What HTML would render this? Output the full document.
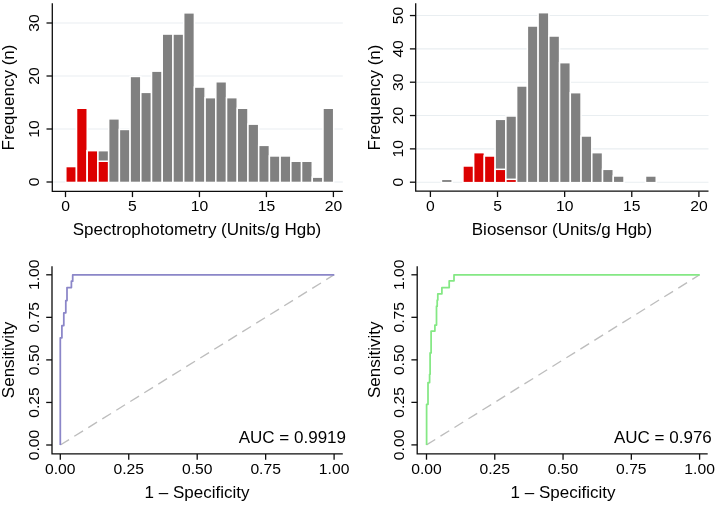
<!DOCTYPE html>
<html><head><meta charset="utf-8"><title>Figure</title>
<style>
html,body{margin:0;padding:0;background:#fff;}
svg{display:block;will-change:transform;font-family:"Liberation Sans",sans-serif;}
text{fill:#000;}
</style></head>
<body>
<svg width="717" height="505" viewBox="0 0 717 505">
<rect width="717" height="505" fill="#fff"/>
<line x1="52.3" x2="342.8" y1="182.00" y2="182.00" stroke="#e9eef1" stroke-width="1.1"/>
<line x1="52.3" x2="342.8" y1="129.00" y2="129.00" stroke="#e9eef1" stroke-width="1.1"/>
<line x1="52.3" x2="342.8" y1="76.00" y2="76.00" stroke="#e9eef1" stroke-width="1.1"/>
<line x1="52.3" x2="342.8" y1="23.00" y2="23.00" stroke="#e9eef1" stroke-width="1.1"/>
<rect x="65.80" y="166.55" width="10.72" height="15.90" fill="#808080" stroke="#fff" stroke-width="1.5"/>
<rect x="65.80" y="166.55" width="10.72" height="15.90" fill="#dc0000" stroke="#fff" stroke-width="1.5"/>
<rect x="76.52" y="108.25" width="10.72" height="74.20" fill="#808080" stroke="#fff" stroke-width="1.5"/>
<rect x="76.52" y="108.25" width="10.72" height="74.20" fill="#dc0000" stroke="#fff" stroke-width="1.5"/>
<rect x="87.23" y="150.65" width="10.72" height="31.80" fill="#808080" stroke="#fff" stroke-width="1.5"/>
<rect x="87.23" y="150.65" width="10.72" height="31.80" fill="#dc0000" stroke="#fff" stroke-width="1.5"/>
<rect x="97.95" y="150.65" width="10.72" height="31.80" fill="#808080" stroke="#fff" stroke-width="1.5"/>
<rect x="97.95" y="161.25" width="10.72" height="21.20" fill="#dc0000" stroke="#fff" stroke-width="1.5"/>
<rect x="108.66" y="118.85" width="10.72" height="63.60" fill="#808080" stroke="#fff" stroke-width="1.5"/>
<rect x="119.38" y="129.45" width="10.72" height="53.00" fill="#808080" stroke="#fff" stroke-width="1.5"/>
<rect x="130.10" y="76.45" width="10.72" height="106.00" fill="#808080" stroke="#fff" stroke-width="1.5"/>
<rect x="140.81" y="92.35" width="10.72" height="90.10" fill="#808080" stroke="#fff" stroke-width="1.5"/>
<rect x="151.53" y="71.15" width="10.72" height="111.30" fill="#808080" stroke="#fff" stroke-width="1.5"/>
<rect x="162.24" y="34.05" width="10.72" height="148.40" fill="#808080" stroke="#fff" stroke-width="1.5"/>
<rect x="172.96" y="34.05" width="10.72" height="148.40" fill="#808080" stroke="#fff" stroke-width="1.5"/>
<rect x="183.68" y="12.85" width="10.72" height="169.60" fill="#808080" stroke="#fff" stroke-width="1.5"/>
<rect x="194.39" y="87.05" width="10.72" height="95.40" fill="#808080" stroke="#fff" stroke-width="1.5"/>
<rect x="205.11" y="97.65" width="10.72" height="84.80" fill="#808080" stroke="#fff" stroke-width="1.5"/>
<rect x="215.82" y="81.75" width="10.72" height="100.70" fill="#808080" stroke="#fff" stroke-width="1.5"/>
<rect x="226.54" y="97.65" width="10.72" height="84.80" fill="#808080" stroke="#fff" stroke-width="1.5"/>
<rect x="237.26" y="108.25" width="10.72" height="74.20" fill="#808080" stroke="#fff" stroke-width="1.5"/>
<rect x="247.97" y="124.15" width="10.72" height="58.30" fill="#808080" stroke="#fff" stroke-width="1.5"/>
<rect x="258.69" y="145.35" width="10.72" height="37.10" fill="#808080" stroke="#fff" stroke-width="1.5"/>
<rect x="269.40" y="155.95" width="10.72" height="26.50" fill="#808080" stroke="#fff" stroke-width="1.5"/>
<rect x="280.12" y="155.95" width="10.72" height="26.50" fill="#808080" stroke="#fff" stroke-width="1.5"/>
<rect x="290.84" y="161.25" width="10.72" height="21.20" fill="#808080" stroke="#fff" stroke-width="1.5"/>
<rect x="301.55" y="161.25" width="10.72" height="21.20" fill="#808080" stroke="#fff" stroke-width="1.5"/>
<rect x="312.27" y="177.15" width="10.72" height="5.30" fill="#808080" stroke="#fff" stroke-width="1.5"/>
<rect x="322.98" y="108.25" width="10.72" height="74.20" fill="#808080" stroke="#fff" stroke-width="1.5"/>
<path d="M52.3,3.2 V191.3 H342.8" fill="none" stroke="#0d0d0d" stroke-width="1.3"/>
<line x1="46.5" x2="52.3" y1="182.00" y2="182.00" stroke="#0d0d0d" stroke-width="1.3"/>
<text transform="translate(38.5,182.00) rotate(-90) scale(1.06,1)" text-anchor="middle" font-size="14.8">0</text>
<line x1="46.5" x2="52.3" y1="129.00" y2="129.00" stroke="#0d0d0d" stroke-width="1.3"/>
<text transform="translate(38.5,129.00) rotate(-90) scale(1.06,1)" text-anchor="middle" font-size="14.8">10</text>
<line x1="46.5" x2="52.3" y1="76.00" y2="76.00" stroke="#0d0d0d" stroke-width="1.3"/>
<text transform="translate(38.5,76.00) rotate(-90) scale(1.06,1)" text-anchor="middle" font-size="14.8">20</text>
<line x1="46.5" x2="52.3" y1="23.00" y2="23.00" stroke="#0d0d0d" stroke-width="1.3"/>
<text transform="translate(38.5,23.00) rotate(-90) scale(1.06,1)" text-anchor="middle" font-size="14.8">30</text>
<line x1="65.50" x2="65.50" y1="191.3" y2="197.10000000000002" stroke="#0d0d0d" stroke-width="1.3"/>
<text transform="translate(65.50,210.70) scale(1.06,1)" text-anchor="middle" font-size="14.8">0</text>
<line x1="132.47" x2="132.47" y1="191.3" y2="197.10000000000002" stroke="#0d0d0d" stroke-width="1.3"/>
<text transform="translate(132.47,210.70) scale(1.06,1)" text-anchor="middle" font-size="14.8">5</text>
<line x1="199.45" x2="199.45" y1="191.3" y2="197.10000000000002" stroke="#0d0d0d" stroke-width="1.3"/>
<text transform="translate(199.45,210.70) scale(1.06,1)" text-anchor="middle" font-size="14.8">10</text>
<line x1="266.42" x2="266.42" y1="191.3" y2="197.10000000000002" stroke="#0d0d0d" stroke-width="1.3"/>
<text transform="translate(266.42,210.70) scale(1.06,1)" text-anchor="middle" font-size="14.8">15</text>
<line x1="333.40" x2="333.40" y1="191.3" y2="197.10000000000002" stroke="#0d0d0d" stroke-width="1.3"/>
<text transform="translate(333.40,210.70) scale(1.06,1)" text-anchor="middle" font-size="14.8">20</text>
<text x="197" y="235.10" text-anchor="middle" font-size="17.0">Spectrophotometry (Units/g Hgb)</text>
<text transform="translate(14.1,97.5) rotate(-90)" text-anchor="middle" font-size="17.0">Frequency (n)</text>
<line x1="415.7" x2="708.5" y1="182.20" y2="182.20" stroke="#e9eef1" stroke-width="1.1"/>
<line x1="415.7" x2="708.5" y1="148.87" y2="148.87" stroke="#e9eef1" stroke-width="1.1"/>
<line x1="415.7" x2="708.5" y1="115.54" y2="115.54" stroke="#e9eef1" stroke-width="1.1"/>
<line x1="415.7" x2="708.5" y1="82.21" y2="82.21" stroke="#e9eef1" stroke-width="1.1"/>
<line x1="415.7" x2="708.5" y1="48.88" y2="48.88" stroke="#e9eef1" stroke-width="1.1"/>
<line x1="415.7" x2="708.5" y1="15.55" y2="15.55" stroke="#e9eef1" stroke-width="1.1"/>
<rect x="441.44" y="179.32" width="10.74" height="3.33" fill="#808080" stroke="#fff" stroke-width="1.5"/>
<rect x="462.92" y="165.98" width="10.74" height="16.66" fill="#808080" stroke="#fff" stroke-width="1.5"/>
<rect x="462.92" y="165.98" width="10.74" height="16.66" fill="#dc0000" stroke="#fff" stroke-width="1.5"/>
<rect x="473.66" y="152.65" width="10.74" height="30.00" fill="#808080" stroke="#fff" stroke-width="1.5"/>
<rect x="473.66" y="152.65" width="10.74" height="30.00" fill="#dc0000" stroke="#fff" stroke-width="1.5"/>
<rect x="484.40" y="155.99" width="10.74" height="26.66" fill="#808080" stroke="#fff" stroke-width="1.5"/>
<rect x="484.40" y="155.99" width="10.74" height="26.66" fill="#dc0000" stroke="#fff" stroke-width="1.5"/>
<rect x="495.14" y="119.32" width="10.74" height="63.33" fill="#808080" stroke="#fff" stroke-width="1.5"/>
<rect x="495.14" y="169.32" width="10.74" height="13.33" fill="#dc0000" stroke="#fff" stroke-width="1.5"/>
<rect x="505.88" y="115.99" width="10.74" height="66.66" fill="#808080" stroke="#fff" stroke-width="1.5"/>
<rect x="505.88" y="179.32" width="10.74" height="3.33" fill="#dc0000" stroke="#fff" stroke-width="1.5"/>
<rect x="516.62" y="85.99" width="10.74" height="96.66" fill="#808080" stroke="#fff" stroke-width="1.5"/>
<rect x="527.36" y="26.00" width="10.74" height="156.65" fill="#808080" stroke="#fff" stroke-width="1.5"/>
<rect x="538.10" y="12.67" width="10.74" height="169.98" fill="#808080" stroke="#fff" stroke-width="1.5"/>
<rect x="548.84" y="36.00" width="10.74" height="146.65" fill="#808080" stroke="#fff" stroke-width="1.5"/>
<rect x="559.58" y="62.66" width="10.74" height="119.99" fill="#808080" stroke="#fff" stroke-width="1.5"/>
<rect x="570.32" y="92.66" width="10.74" height="89.99" fill="#808080" stroke="#fff" stroke-width="1.5"/>
<rect x="581.06" y="135.99" width="10.74" height="46.66" fill="#808080" stroke="#fff" stroke-width="1.5"/>
<rect x="591.80" y="152.65" width="10.74" height="30.00" fill="#808080" stroke="#fff" stroke-width="1.5"/>
<rect x="602.54" y="169.32" width="10.74" height="13.33" fill="#808080" stroke="#fff" stroke-width="1.5"/>
<rect x="613.28" y="175.98" width="10.74" height="6.67" fill="#808080" stroke="#fff" stroke-width="1.5"/>
<rect x="645.50" y="175.98" width="10.74" height="6.67" fill="#808080" stroke="#fff" stroke-width="1.5"/>
<path d="M415.7,3.2 V191.2 H708.5" fill="none" stroke="#0d0d0d" stroke-width="1.3"/>
<line x1="409.9" x2="415.7" y1="182.20" y2="182.20" stroke="#0d0d0d" stroke-width="1.3"/>
<text transform="translate(403.0,182.20) rotate(-90) scale(1.06,1)" text-anchor="middle" font-size="14.8">0</text>
<line x1="409.9" x2="415.7" y1="148.87" y2="148.87" stroke="#0d0d0d" stroke-width="1.3"/>
<text transform="translate(403.0,148.87) rotate(-90) scale(1.06,1)" text-anchor="middle" font-size="14.8">10</text>
<line x1="409.9" x2="415.7" y1="115.54" y2="115.54" stroke="#0d0d0d" stroke-width="1.3"/>
<text transform="translate(403.0,115.54) rotate(-90) scale(1.06,1)" text-anchor="middle" font-size="14.8">20</text>
<line x1="409.9" x2="415.7" y1="82.21" y2="82.21" stroke="#0d0d0d" stroke-width="1.3"/>
<text transform="translate(403.0,82.21) rotate(-90) scale(1.06,1)" text-anchor="middle" font-size="14.8">30</text>
<line x1="409.9" x2="415.7" y1="48.88" y2="48.88" stroke="#0d0d0d" stroke-width="1.3"/>
<text transform="translate(403.0,48.88) rotate(-90) scale(1.06,1)" text-anchor="middle" font-size="14.8">40</text>
<line x1="409.9" x2="415.7" y1="15.55" y2="15.55" stroke="#0d0d0d" stroke-width="1.3"/>
<text transform="translate(403.0,15.55) rotate(-90) scale(1.06,1)" text-anchor="middle" font-size="14.8">50</text>
<line x1="430.40" x2="430.40" y1="191.2" y2="197.0" stroke="#0d0d0d" stroke-width="1.3"/>
<text transform="translate(430.40,210.60) scale(1.06,1)" text-anchor="middle" font-size="14.8">0</text>
<line x1="497.52" x2="497.52" y1="191.2" y2="197.0" stroke="#0d0d0d" stroke-width="1.3"/>
<text transform="translate(497.52,210.60) scale(1.06,1)" text-anchor="middle" font-size="14.8">5</text>
<line x1="564.65" x2="564.65" y1="191.2" y2="197.0" stroke="#0d0d0d" stroke-width="1.3"/>
<text transform="translate(564.65,210.60) scale(1.06,1)" text-anchor="middle" font-size="14.8">10</text>
<line x1="631.77" x2="631.77" y1="191.2" y2="197.0" stroke="#0d0d0d" stroke-width="1.3"/>
<text transform="translate(631.77,210.60) scale(1.06,1)" text-anchor="middle" font-size="14.8">15</text>
<line x1="698.90" x2="698.90" y1="191.2" y2="197.0" stroke="#0d0d0d" stroke-width="1.3"/>
<text transform="translate(698.90,210.60) scale(1.06,1)" text-anchor="middle" font-size="14.8">20</text>
<text x="562" y="235.00" text-anchor="middle" font-size="17.0">Biosensor (Units/g Hgb)</text>
<text transform="translate(380.1,97.5) rotate(-90)" text-anchor="middle" font-size="17.0">Frequency (n)</text>
<line x1="60.3" y1="445.0" x2="334.1" y2="274.8" stroke="#bdbdbd" stroke-width="1.35" stroke-dasharray="10.3 6.18"/>
<path d="M60.3,445 V337.8 H61.9 V325.5 H63.8 V312.8 H65.8 V300.5 H67 V287.6 H71.4 V281.2 H72.7 V274.9 H334.3" fill="none" stroke="#8b86c8" stroke-width="1.75" stroke-linejoin="round"/>
<path d="M52.0,266.3 V453.9 H342.8" fill="none" stroke="#0d0d0d" stroke-width="1.3"/>
<line x1="46.2" x2="52.0" y1="445.00" y2="445.00" stroke="#0d0d0d" stroke-width="1.3"/>
<text transform="translate(38.5,445.00) rotate(-90) scale(1.06,1)" text-anchor="middle" font-size="14.8">0.00</text>
<line x1="60.30" x2="60.30" y1="453.9" y2="459.7" stroke="#0d0d0d" stroke-width="1.3"/>
<text transform="translate(60.30,473.50) scale(1.06,1)" text-anchor="middle" font-size="14.8">0.00</text>
<line x1="46.2" x2="52.0" y1="402.45" y2="402.45" stroke="#0d0d0d" stroke-width="1.3"/>
<text transform="translate(38.5,402.45) rotate(-90) scale(1.06,1)" text-anchor="middle" font-size="14.8">0.25</text>
<line x1="128.75" x2="128.75" y1="453.9" y2="459.7" stroke="#0d0d0d" stroke-width="1.3"/>
<text transform="translate(128.75,473.50) scale(1.06,1)" text-anchor="middle" font-size="14.8">0.25</text>
<line x1="46.2" x2="52.0" y1="359.90" y2="359.90" stroke="#0d0d0d" stroke-width="1.3"/>
<text transform="translate(38.5,359.90) rotate(-90) scale(1.06,1)" text-anchor="middle" font-size="14.8">0.50</text>
<line x1="197.20" x2="197.20" y1="453.9" y2="459.7" stroke="#0d0d0d" stroke-width="1.3"/>
<text transform="translate(197.20,473.50) scale(1.06,1)" text-anchor="middle" font-size="14.8">0.50</text>
<line x1="46.2" x2="52.0" y1="317.35" y2="317.35" stroke="#0d0d0d" stroke-width="1.3"/>
<text transform="translate(38.5,317.35) rotate(-90) scale(1.06,1)" text-anchor="middle" font-size="14.8">0.75</text>
<line x1="265.65" x2="265.65" y1="453.9" y2="459.7" stroke="#0d0d0d" stroke-width="1.3"/>
<text transform="translate(265.65,473.50) scale(1.06,1)" text-anchor="middle" font-size="14.8">0.75</text>
<line x1="46.2" x2="52.0" y1="274.80" y2="274.80" stroke="#0d0d0d" stroke-width="1.3"/>
<text transform="translate(38.5,274.80) rotate(-90) scale(1.06,1)" text-anchor="middle" font-size="14.8">1.00</text>
<line x1="334.10" x2="334.10" y1="453.9" y2="459.7" stroke="#0d0d0d" stroke-width="1.3"/>
<text transform="translate(334.10,473.50) scale(1.06,1)" text-anchor="middle" font-size="14.8">1.00</text>
<text x="197" y="497.50" text-anchor="middle" font-size="17.0">1 – Specificity</text>
<text transform="translate(14.1,359.90) rotate(-90)" text-anchor="middle" font-size="17.0">Sensitivity</text>
<text x="346.0" y="442.6" text-anchor="end" font-size="17.0">AUC = 0.9919</text>
<line x1="426.5" y1="444.9" x2="699.6" y2="274.8" stroke="#bdbdbd" stroke-width="1.35" stroke-dasharray="10.3 6.18"/>
<path d="M426.6,444.9 V404.3 H428.0 V382.6 H429.6 V374.3 H430.1 V352.9 H431.1 V331.1 H434.9 V325.1 H436.5 V306.2 H437.2 V300.1 H437.8 V293.8 H441.9 V287.5 H449.2 V280.8 H454 V274.8 H699.7" fill="none" stroke="#84e884" stroke-width="1.75" stroke-linejoin="round"/>
<path d="M417.2,266.3 V453.9 H707.7" fill="none" stroke="#0d0d0d" stroke-width="1.3"/>
<line x1="411.4" x2="417.2" y1="444.90" y2="444.90" stroke="#0d0d0d" stroke-width="1.3"/>
<text transform="translate(404.0,444.90) rotate(-90) scale(1.06,1)" text-anchor="middle" font-size="14.8">0.00</text>
<line x1="426.50" x2="426.50" y1="453.9" y2="459.7" stroke="#0d0d0d" stroke-width="1.3"/>
<text transform="translate(426.50,473.50) scale(1.06,1)" text-anchor="middle" font-size="14.8">0.00</text>
<line x1="411.4" x2="417.2" y1="402.38" y2="402.38" stroke="#0d0d0d" stroke-width="1.3"/>
<text transform="translate(404.0,402.38) rotate(-90) scale(1.06,1)" text-anchor="middle" font-size="14.8">0.25</text>
<line x1="494.77" x2="494.77" y1="453.9" y2="459.7" stroke="#0d0d0d" stroke-width="1.3"/>
<text transform="translate(494.77,473.50) scale(1.06,1)" text-anchor="middle" font-size="14.8">0.25</text>
<line x1="411.4" x2="417.2" y1="359.85" y2="359.85" stroke="#0d0d0d" stroke-width="1.3"/>
<text transform="translate(404.0,359.85) rotate(-90) scale(1.06,1)" text-anchor="middle" font-size="14.8">0.50</text>
<line x1="563.05" x2="563.05" y1="453.9" y2="459.7" stroke="#0d0d0d" stroke-width="1.3"/>
<text transform="translate(563.05,473.50) scale(1.06,1)" text-anchor="middle" font-size="14.8">0.50</text>
<line x1="411.4" x2="417.2" y1="317.32" y2="317.32" stroke="#0d0d0d" stroke-width="1.3"/>
<text transform="translate(404.0,317.32) rotate(-90) scale(1.06,1)" text-anchor="middle" font-size="14.8">0.75</text>
<line x1="631.33" x2="631.33" y1="453.9" y2="459.7" stroke="#0d0d0d" stroke-width="1.3"/>
<text transform="translate(631.33,473.50) scale(1.06,1)" text-anchor="middle" font-size="14.8">0.75</text>
<line x1="411.4" x2="417.2" y1="274.80" y2="274.80" stroke="#0d0d0d" stroke-width="1.3"/>
<text transform="translate(404.0,274.80) rotate(-90) scale(1.06,1)" text-anchor="middle" font-size="14.8">1.00</text>
<line x1="699.60" x2="699.60" y1="453.9" y2="459.7" stroke="#0d0d0d" stroke-width="1.3"/>
<text transform="translate(699.60,473.50) scale(1.06,1)" text-anchor="middle" font-size="14.8">1.00</text>
<text x="563" y="497.50" text-anchor="middle" font-size="17.0">1 – Specificity</text>
<text transform="translate(380.0,359.85) rotate(-90)" text-anchor="middle" font-size="17.0">Sensitivity</text>
<text x="711.8" y="442.6" text-anchor="end" font-size="17.0">AUC = 0.976</text>
</svg>
</body></html>
